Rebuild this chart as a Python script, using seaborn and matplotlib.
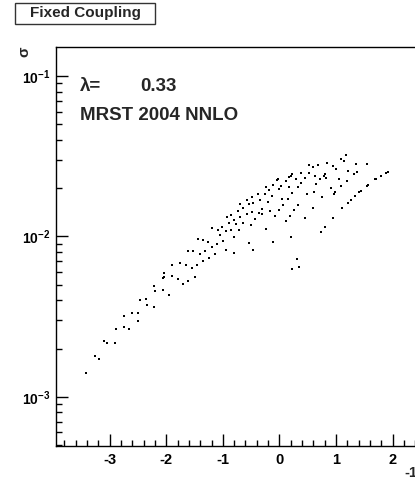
import math
import matplotlib
matplotlib.use("Agg")  # no display
import matplotlib.pyplot as plt
import pandas as pd
import seaborn as sns
from matplotlib.patches import Rectangle
from matplotlib.ticker import (FixedLocator, MultipleLocator, LogLocator,
                               FuncFormatter, NullFormatter)

# ---------------------------------------------------------------------------
# Data (x, sigma)
# ---------------------------------------------------------------------------
x_vals = [
    -3.415, -3.256, -3.191, -3.110, -3.044, -2.903, -2.890, -2.749, -2.744,
    -2.655, -2.602, -2.496, -2.496, -2.461, -2.350, -2.337, -2.214, -2.214,
    -2.196, -2.055, -1.954, -2.049, -2.042, -2.060, -1.901, -1.795, -1.701,
    -1.896, -1.754, -1.648, -1.459, -1.548, -1.489, -1.608, -1.608, -1.519,
    -1.318, -1.396, -1.242, -1.343, -1.442, -1.353, -1.254, -1.189, -1.101,
    -1.136, -1.194, -1.088, -1.053, -0.989, -0.942, -0.936, -0.929, -0.894,
    -0.859, -0.848, -0.795, -0.765, -0.800, -0.800, -0.717, -0.735, -0.694,
    -0.689, -1.012, -0.641, -0.641, -0.576, -0.565, -0.541, -0.541, -0.500,
    -0.482, -0.477, -0.459, -0.465, -0.429, -0.382, -0.359, -0.341, -0.306,
    -0.300, -0.253, -0.235, -0.235, -0.194, -0.187, -0.164, -0.124, -0.117,
    -0.111, -0.076, -0.041, -0.023, -0.011, -0.005, 0.030, 0.042, 0.071,
    0.113, 0.113, 0.148, 0.171, 0.171, 0.184, 0.201, 0.212, 0.224, 0.224,
    0.224, 0.254, 0.295, 0.313, 0.325, 0.330, 0.348, 0.378, 0.378, 0.449,
    0.454, 0.495, 0.519, 0.530, 0.590, 0.590, 0.613, 0.631, 0.648, 0.684,
    0.719, 0.754, 0.731, 0.790, 0.807, 0.820, 0.802, 0.848, 0.913, 0.949,
    0.954, 0.961, 0.989, 1.002, 1.055, 1.090, 1.095, 1.113, 1.143, 1.178,
    1.196, 1.208, 1.214, 1.267, 1.314, 1.337, 1.355, 1.373, 1.408, 1.438,
    1.544, 1.555, 1.567, 1.691, 1.714, 1.792, 1.880, 1.915,
]
sigma_vals = [
    0.00141, 0.00180, 0.00171, 0.00222, 0.00218, 0.00217, 0.00266, 0.00319,
    0.00273, 0.00265, 0.00335, 0.00333, 0.00299, 0.00404, 0.00408, 0.00376,
    0.00365, 0.00491, 0.00459, 0.00462, 0.00434, 0.00595, 0.00562, 0.00549,
    0.00567, 0.00546, 0.00506, 0.00664, 0.00687, 0.00664, 0.00662, 0.00634,
    0.00559, 0.00528, 0.00809, 0.00809, 0.00809, 0.00775, 0.00738, 0.00704,
    0.00969, 0.00947, 0.00920, 0.00860, 0.00894, 0.00775, 0.01135, 0.01103,
    0.01026, 0.00933, 0.00824, 0.01082, 0.01317, 0.01219, 0.01362, 0.01103,
    0.01267, 0.01191, 0.00997, 0.00786, 0.01103, 0.01448, 0.01594, 0.01329,
    0.01151, 0.01505, 0.01219, 0.01689, 0.01381, 0.01594, 0.00907, 0.01174,
    0.01771, 0.01422, 0.01611, 0.00824, 0.01285, 0.01849, 0.01407, 0.01682,
    0.01381, 0.01491, 0.01849, 0.02044, 0.01118, 0.01641, 0.01958, 0.01442,
    0.01789, 0.00928, 0.02104, 0.01348, 0.02240, 0.02283, 0.01463, 0.01969,
    0.02065, 0.01706, 0.01579, 0.02228, 0.01249, 0.01721, 0.02360, 0.02026,
    0.01342, 0.02393, 0.00993, 0.02453, 0.01867, 0.00625, 0.01463, 0.02283,
    0.00721, 0.02026, 0.01572, 0.00645, 0.02499, 0.02165, 0.01310, 0.02306,
    0.01849, 0.02791, 0.02477, 0.02724, 0.01505, 0.01894, 0.02384, 0.02125,
    0.02791, 0.02283, 0.01763, 0.01067, 0.02384, 0.02453, 0.02306, 0.01146,
    0.02860, 0.02006, 0.01310, 0.02752, 0.01849, 0.01903, 0.02635, 0.02273,
    0.02056, 0.03042, 0.01505, 0.02956, 0.03222, 0.02228, 0.01618, 0.02561,
    0.01689, 0.02453, 0.01789, 0.02831, 0.02535, 0.01886, 0.01921, 0.02831,
    0.02056, 0.02086, 0.02273, 0.02293, 0.02384, 0.02477, 0.02535,
]
x_major_ticks = [-3, -2, -1, 0, 1, 2]

title_text = "Fixed Coupling"
y_title = "\u03c3"
x_title = "-1"
lambda_label = "\u03bb="
lambda_value = "0.33"
pdf_label = "MRST 2004 NNLO"

W, H = 415, 488  # pixels


def fx(px):
    return px / W


def fy(py):
    return 1 - py / H


# ---------------------------------------------------------------------------
# Style
# ---------------------------------------------------------------------------
sns.set_style("white")
plt.rcParams["font.family"] = ["Liberation Sans", "DejaVu Sans"]
plt.rcParams["font.weight"] = "bold"
plt.rcParams["axes.unicode_minus"] = False
plt.rcParams["mathtext.fontset"] = "custom"
plt.rcParams["mathtext.bf"] = "Liberation Sans:bold"
plt.rcParams["mathtext.rm"] = "Liberation Sans:bold"

df = pd.DataFrame({"x": x_vals, "sigma": sigma_vals})

fig = plt.figure(figsize=(W / 100, H / 100), dpi=100)
# the right border of the frame lies outside the canvas, as in the reference
ax = fig.add_axes([fx(56), fy(446), (470 - 56) / W, (446 - 47) / H])

sns.scatterplot(data=df, x="x", y="sigma", ax=ax, s=2.5, marker="s",
                color="black", linewidth=0, legend=False)

ax.set_yscale("log")
ax.set_xlim(-3.95, 3.37)
ax.set_ylim(4.93e-4, 0.152)
ax.set_xlabel("")
ax.set_ylabel("")

for side in ["left", "bottom", "top", "right"]:
    ax.spines[side].set_visible(True)
    ax.spines[side].set_color("black")
    ax.spines[side].set_linewidth(1.0)

ax.xaxis.set_major_locator(FixedLocator(x_major_ticks))
ax.xaxis.set_minor_locator(MultipleLocator(0.2))
ax.yaxis.set_major_locator(LogLocator(base=10))
ax.yaxis.set_minor_locator(LogLocator(base=10, subs=range(2, 10)))
ax.yaxis.set_major_formatter(
    FuncFormatter(lambda v, pos: r"$\mathbf{10^{%d}}$" % round(math.log10(v))))
ax.yaxis.set_minor_formatter(NullFormatter())

ax.tick_params(which="major", direction="in", length=8.5, width=1,
               bottom=True, left=True, top=False, right=False, colors="black")
ax.tick_params(which="minor", direction="in", length=4, width=1,
               bottom=True, left=True, top=False, right=False, colors="black")
ax.tick_params(axis="x", which="major", labelsize=10.5, pad=5)
ax.tick_params(axis="y", which="major", labelsize=10, pad=4)
for lab in ax.get_xticklabels():
    lab.set_fontweight("bold")

# ---- texts ----
fig.text(fx(80), fy(91), lambda_label, fontsize=13.5, fontweight="bold",
         va="baseline", ha="left")
fig.text(fx(140), fy(91), lambda_value, fontsize=13.5, fontweight="bold",
         va="baseline", ha="left")
fig.text(fx(80), fy(120), pdf_label, fontsize=13.5, fontweight="bold",
         va="baseline", ha="left")

fig.text(fx(24), fy(52), y_title, rotation=90, fontsize=11, fontweight="bold",
         ha="center", va="center")
fig.text(fx(404), fy(473), x_title, fontsize=10.5, fontweight="bold",
         ha="left", va="center")

# ---- title box ----
fig.patches.append(Rectangle((fx(15), fy(24)), 140 / W, 21 / H,
                             transform=fig.transFigure, facecolor="white",
                             edgecolor="#333333", linewidth=1.0))
fig.text(fx(85), fy(13.5), title_text, fontsize=11, fontweight="bold",
         ha="center", va="center")

fig.savefig("out.png", dpi=100)
